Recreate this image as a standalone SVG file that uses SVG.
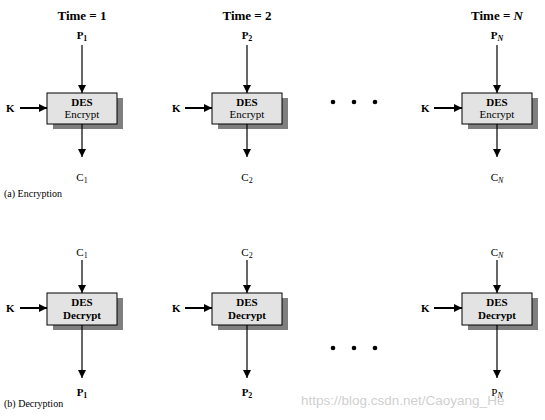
<svg xmlns="http://www.w3.org/2000/svg" width="545" height="420" viewBox="0 0 545 420">
<style>
text{font-family:"Liberation Serif","Times New Roman",serif;fill:#000}
.t{font-size:13px;font-weight:bold;text-anchor:middle}
.lbl{font-size:11px;text-anchor:middle}
.b{font-weight:bold}
.k{font-size:11px;font-weight:bold}
.box{fill:#e3e3e3;stroke:#000;stroke-width:1}
.sh{fill:#7f7f7f}
.v{stroke:#000;stroke-width:1.2;fill:none}
.h{stroke:#000;stroke-width:2;fill:none}
.cap{font-size:10px}
.wm{font-family:"Liberation Sans",Arial,sans-serif;font-size:13.5px;fill:#d0d0d0}
</style>
<defs>
<marker id="ah" viewBox="0 0 10 10" refX="10" refY="5" markerWidth="8" markerHeight="8" markerUnits="userSpaceOnUse" orient="auto">
<path d="M0,0 L10,5 L0,10 z" fill="#000"/>
</marker>
</defs>

<g id="labels">
<text class="t" x="82" y="20">Time = 1</text>
<text class="t" x="247" y="20">Time = 2</text>
<text class="t" x="497" y="20">Time = <tspan font-style="italic">N</tspan></text>
<text class="cap" x="4" y="197">(a) Encryption</text>
<text class="cap" x="4" y="407">(b) Decryption</text>
</g>

<g id="enc1">
<text class="lbl b" x="82" y="39">P<tspan font-size="8" dy="2">1</tspan></text>
<rect class="sh" x="53" y="98" width="70" height="31"/>
<rect class="box" x="47" y="93" width="70" height="31"/>
<text class="lbl b" x="82" y="106">DES</text>
<text class="lbl" x="82" y="118">Encrypt</text>
<text class="k" x="6" y="112">K</text>
<text class="lbl" x="82" y="181">C<tspan font-size="8" dy="2">1</tspan></text>
</g>
<g id="enc2">
<text class="lbl b" x="247" y="39">P<tspan font-size="8" dy="2">2</tspan></text>
<rect class="sh" x="218" y="98" width="70" height="31"/>
<rect class="box" x="212" y="93" width="70" height="31"/>
<text class="lbl b" x="247" y="106">DES</text>
<text class="lbl" x="247" y="118">Encrypt</text>
<text class="k" x="172" y="112">K</text>
<text class="lbl" x="247" y="181">C<tspan font-size="8" dy="2">2</tspan></text>
</g>
<g id="enc3">
<text class="lbl b" x="497" y="39">P<tspan font-size="8" dy="2" font-style="italic">N</tspan></text>
<rect class="sh" x="468" y="98" width="70" height="31"/>
<rect class="box" x="462" y="93" width="70" height="31"/>
<text class="lbl b" x="497" y="106">DES</text>
<text class="lbl" x="497" y="118">Encrypt</text>
<text class="k" x="421" y="112">K</text>
<text class="lbl" x="497" y="181">C<tspan font-size="8" dy="2" font-style="italic">N</tspan></text>
</g>

<g id="dec1">
<text class="lbl" x="82" y="256">C<tspan font-size="8" dy="2">1</tspan></text>
<rect class="sh" x="53" y="298" width="70" height="32"/>
<rect class="box" x="47" y="293" width="70" height="32"/>
<text class="lbl b" x="82" y="306">DES</text>
<text class="lbl b" x="82" y="319">Decrypt</text>
<text class="k" x="6" y="312">K</text>
<text class="lbl b" x="82" y="396">P<tspan font-size="8" dy="2">1</tspan></text>
</g>
<g id="dec2">
<text class="lbl" x="247" y="256">C<tspan font-size="8" dy="2">2</tspan></text>
<rect class="sh" x="218" y="298" width="70" height="32"/>
<rect class="box" x="212" y="293" width="70" height="32"/>
<text class="lbl b" x="247" y="306">DES</text>
<text class="lbl b" x="247" y="319">Decrypt</text>
<text class="k" x="172" y="312">K</text>
<text class="lbl b" x="247" y="396">P<tspan font-size="8" dy="2">2</tspan></text>
</g>
<g id="dec3">
<text class="lbl" x="497" y="256">C<tspan font-size="8" dy="2" font-style="italic">N</tspan></text>
<rect class="sh" x="468" y="298" width="70" height="32"/>
<rect class="box" x="462" y="293" width="70" height="32"/>
<text class="lbl b" x="497" y="306">DES</text>
<text class="lbl b" x="497" y="319">Decrypt</text>
<text class="k" x="421" y="312">K</text>
<text class="lbl" x="497" y="396">P<tspan font-size="8" dy="2" font-style="italic">N</tspan></text>
</g>

<g id="dots">
<circle cx="333" cy="102" r="2.3"/><circle cx="354" cy="102" r="2.3"/><circle cx="375" cy="102" r="2.3"/>
<circle cx="333" cy="348" r="2.3"/><circle cx="354" cy="348" r="2.3"/><circle cx="375" cy="348" r="2.3"/>
</g>

<g id="connectors">
<path class="v" d="M82,45 V93" marker-end="url(#ah)"/>
<path class="v" d="M82,124 V157" marker-end="url(#ah)"/>
<path class="h" d="M20,108 H47" marker-end="url(#ah)"/>
<path class="v" d="M247,45 V93" marker-end="url(#ah)"/>
<path class="v" d="M247,124 V157" marker-end="url(#ah)"/>
<path class="h" d="M185,108 H212" marker-end="url(#ah)"/>
<path class="v" d="M497,45 V93" marker-end="url(#ah)"/>
<path class="v" d="M497,124 V157" marker-end="url(#ah)"/>
<path class="h" d="M434,108 H462" marker-end="url(#ah)"/>

<path class="v" d="M82,260 V293" marker-end="url(#ah)"/>
<path class="v" d="M82,325 V378" marker-end="url(#ah)"/>
<path class="h" d="M20,308 H47" marker-end="url(#ah)"/>
<path class="v" d="M247,260 V293" marker-end="url(#ah)"/>
<path class="v" d="M247,325 V378" marker-end="url(#ah)"/>
<path class="h" d="M185,308 H212" marker-end="url(#ah)"/>
<path class="v" d="M497,260 V293" marker-end="url(#ah)"/>
<path class="v" d="M497,325 V378" marker-end="url(#ah)"/>
<path class="h" d="M434,308 H462" marker-end="url(#ah)"/>
</g>

<text class="wm" x="301" y="405">https://blog.csdn.net/Caoyang_He</text>
</svg>
